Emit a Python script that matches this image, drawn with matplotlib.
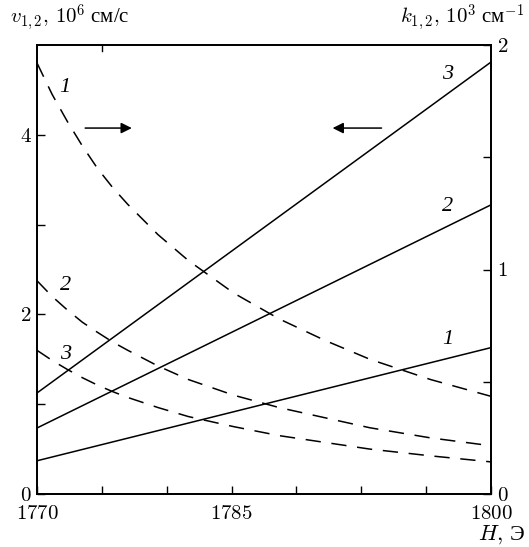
import numpy as np
import matplotlib
matplotlib.use("Agg")
import matplotlib.pyplot as plt

plt.rcParams['mathtext.fontset'] = 'cm'
plt.rcParams['font.family'] = ['Liberation Serif', 'DejaVu Serif']

# Field H, Oe
H_lin = [1770, 1800]
# group velocities v_{1,2}, 10^6 cm/s (solid lines, left axis)
v1 = [0.37, 1.63]
v2 = [0.735, 3.22]
v3 = [1.125, 4.81]

# wave numbers k_{1,2}, 10^3 cm^-1 (dashed, right axis)
H_k = [1770, 1771, 1772, 1773, 1774, 1775, 1776, 1778, 1780, 1783, 1786, 1789, 1792, 1796, 1800]
k1 = [1.92, 1.78, 1.66, 1.55, 1.45, 1.365, 1.29, 1.155, 1.04, 0.895, 0.78, 0.685, 0.60, 0.51, 0.435]
k2 = [0.95, 0.88, 0.82, 0.765, 0.72, 0.677, 0.64, 0.57, 0.51, 0.44, 0.385, 0.34, 0.295, 0.25, 0.215]
k3 = [0.64, 0.595, 0.555, 0.518, 0.485, 0.456, 0.43, 0.385, 0.345, 0.30, 0.26, 0.23, 0.20, 0.17, 0.143]

xticks = list(np.linspace(1770, 1800, 8))
xticklabels = ['$1770$', '', '', '$1785$', '', '', '', '$1800$']

fig = plt.figure(figsize=(5.29, 5.47), dpi=100)
ax = fig.add_axes([37/529, 53/547, 454/529, 449/547])
ax2 = ax.twinx()

lw = 1.1
for v in (v1, v2, v3):
    ax.plot(H_lin, v, color='black', lw=lw)
for k in (k1, k2, k3):
    ax2.plot(H_k, k, color='black', lw=lw, linestyle=(0, (10, 7)))

ax.set_xlim(1770, 1800)
ax.set_ylim(0, 5)
ax2.set_ylim(0, 2)

fs = 15
ax.set_xticks(xticks)
ax.set_xticklabels(xticklabels, fontsize=fs)
ax.set_yticks([0, 1, 2, 3, 4])
ax.set_yticklabels(['$0$', '', '$2$', '', '$4$'], fontsize=fs)
ax2.set_yticks([0, 0.5, 1, 1.5, 2])
ax2.set_yticklabels(['$0$', '', '$1$', '', '$2$'], fontsize=fs)

ax.tick_params(axis='both', direction='in', length=6, width=1.0, pad=4)
ax2.tick_params(axis='y', direction='in', length=6, width=1.0, pad=4)
ax.tick_params(axis='x', pad=8)
for a in (ax, ax2):
    for s in a.spines.values():
        s.set_linewidth(1.3)

# single top tick
ax.plot([xticks[1], xticks[1]], [5, 5 - 0.07], color='black', lw=1.0, clip_on=False)

# curve labels
lab = dict(fontsize=16, ha='center', va='center', style='italic',
           family=['Liberation Serif', 'DejaVu Serif'])
ax.text(0.062, 0.905, '1', transform=ax.transAxes, **lab)
ax.text(0.062, 0.465, '2', transform=ax.transAxes, **lab)
ax.text(0.062, 0.31, '3', transform=ax.transAxes, **lab)
ax.text(0.905, 0.935, '3', transform=ax.transAxes, **lab)
ax.text(0.905, 0.64, '2', transform=ax.transAxes, **lab)
ax.text(0.905, 0.345, '1', transform=ax.transAxes, **lab)

# arrows
ax.annotate('', xy=(0.215, 0.815), xytext=(0.1, 0.815), xycoords='axes fraction',
            arrowprops=dict(arrowstyle='-|>', color='black', lw=1.1, mutation_scale=16))
ax.annotate('', xy=(0.645, 0.815), xytext=(0.765, 0.815), xycoords='axes fraction',
            arrowprops=dict(arrowstyle='-|>', color='black', lw=1.1, mutation_scale=16))

# axis titles
fig.text(10/529, 1 - 18/547, r'$v_{1,2},\,10^6$ см/с', fontsize=fs, ha='left', va='center')
fig.text(524/529, 1 - 18/547, r'$k_{1,2},\,10^3$ см$^{-1}$', fontsize=fs, ha='right', va='center')
fig.text(526/529, 1 - 535/547, r'$H,\,$Э', fontsize=16, ha='right', va='center')

fig.savefig('out.png', dpi=100)
